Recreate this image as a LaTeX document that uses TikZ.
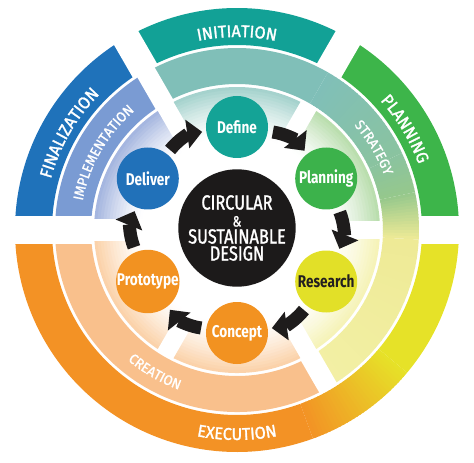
\documentclass[tikz,border=0pt]{standalone}
\usepackage{fontspec}
\usetikzlibrary{arrows.meta,decorations.text}
\newfontfamily\circfont[FakeStretch=0.8]{Fira Sans}
\newfontfamily\hubfont[FakeStretch=0.8,FakeBold=1.3]{Fira Sans}
\newfontfamily\labfont[FakeStretch=0.95,FakeBold=1.6]{Fira Sans}
\newfontfamily\midfont[FakeStretch=0.95,FakeBold=1.2]{Fira Sans}
\definecolor{finC}{RGB}{31,114,186}
\definecolor{iniC}{RGB}{18,161,150}
\definecolor{plaC}{RGB}{61,181,74}
\definecolor{exyC}{RGB}{230,226,40}
\definecolor{exoC}{RGB}{243,146,37}
\definecolor{impC}{RGB}{122,155,211}
\definecolor{strA}{RGB}{128,191,184}
\definecolor{strB}{RGB}{138,195,160}
\definecolor{strC}{RGB}{150,200,140}
\definecolor{strD}{RGB}{238,234,150}
\definecolor{strE}{RGB}{243,240,165}
\definecolor{creC}{RGB}{249,192,140}
\definecolor{dliC}{RGB}{160,178,222}
\definecolor{dfiC}{RGB}{160,208,202}
\definecolor{pliC}{RGB}{182,220,170}
\definecolor{rsiC}{RGB}{245,242,180}
\definecolor{ciC}{RGB}{251,208,165}
\definecolor{defC}{RGB}{20,163,150}
\definecolor{planC}{RGB}{60,178,75}
\definecolor{resC}{RGB}{226,224,40}
\definecolor{conC}{RGB}{242,146,33}
\definecolor{delC}{RGB}{33,113,185}
\definecolor{hubC}{RGB}{28,26,26}
\definecolor{arrC}{RGB}{30,28,28}
\definecolor{darkT}{RGB}{35,31,32}
\newcommand\sect[5]{\fill[#5] (#1:#3pt) arc[start angle=#1,end angle=#2,radius=#3pt] -- (#2:#4pt) arc[start angle=#2,end angle=#1,radius=#4pt] -- cycle;}
\newcommand\agrad[7]{%
  \foreach \i in {1,...,#7}{%
    \pgfmathsetmacro\sa{#1+(#2-#1)*(\i-1)/#7}%
    \pgfmathsetmacro\ea{#1+(#2-#1)*\i/#7+0.4*sign(#2-#1)*(\i<#7)}%
    \pgfmathtruncatemacro\p{100*(\i-0.5)/#7}%
    \fill[#6!\p!#5] (\sa:#3pt) arc[start angle=\sa,end angle=\ea,radius=#3pt] -- (\ea:#4pt) arc[start angle=\ea,end angle=\sa,radius=#4pt] -- cycle;}}
\newcommand\rfade[5]{%
  \foreach \j in {1,...,16}{%
    \pgfmathsetmacro\ra{#3+(#4-#3)*(\j-1)/16}%
    \pgfmathsetmacro\rb{min(#3+(#4-#3)*\j/16+0.5,#4)}%
    \pgfmathtruncatemacro\q{100*((\j-0.5)/16)^1.3}%
    \fill[#5!\q!white] (#1:\ra pt) arc[start angle=#1,end angle=#2,radius=\ra pt] -- (#2:\rb pt) arc[start angle=#2,end angle=#1,radius=\rb pt] -- cycle;}}
\newcommand\gapstrip[4]{\fill[white,rotate=#1] (#2pt,-#4pt) rectangle (#3pt,#4pt);}
\newcommand\olab{\labfont\fontsize{17}{17}\selectfont\color{white}}
\newcommand\mlab{\midfont\fontsize{14}{14}\selectfont\color{white}}
\tikzset{
  stage/.style={circle,minimum size=62pt,inner sep=0pt,text=white,font=\circfont\bfseries\fontsize{17}{17}\selectfont},
  hub/.style={circle,fill=hubC,minimum size=114pt,inner sep=0pt,text=white,align=center,font=\hubfont\fontsize{20.5}{17}\selectfont},
  flow/.style={draw=arrC,line width=13pt,-{Triangle[width=28pt,length=15pt]},shorten <=5pt,shorten >=4pt},
  bandtext/.style={decorate,decoration={text along path,text align=center,text={#1}}}
}
\begin{document}
\begin{tikzpicture}[x=1pt,y=1pt]
\useasboundingbox (-237pt,-233pt) rectangle (237pt,230pt);
% outer ring
\sect{120}{180}{185}{222}{finC}
\sect{60}{120}{185}{222}{iniC}
\sect{0}{60}{185}{222}{plaC}
\sect{-40}{0}{185}{222}{exyC}
\agrad{-40}{-70}{185}{222}{exyC}{exoC}{30}
\sect{-180}{-70}{185}{222}{exoC}
% middle ring
\sect{120}{180}{146}{182}{impC}
\sect{60}{120}{146}{182}{strA}
\agrad{60}{25}{146}{182}{strA}{strB}{25}
\agrad{25}{12}{146}{182}{strB}{strC}{10}
\agrad{12}{-3}{146}{182}{strC}{strD}{15}
\agrad{-3}{-60}{146}{182}{strD}{strE}{20}
\sect{-180}{-60}{146}{182}{creC}
% inner ring
\rfade{120}{180}{95}{143}{dliC}
\rfade{60}{120}{95}{143}{dfiC}
\rfade{0}{60}{95}{143}{pliC}
\rfade{-60}{0}{95}{143}{rsiC}
\rfade{-180}{-60}{95}{143}{ciC}
% gaps
\foreach \g in {0,60,120,180}{\gapstrip{\g}{183}{226}{14}}
\gapstrip{120}{143}{184}{10}
\gapstrip{180}{143}{184}{14}
\gapstrip{-60}{143}{184}{10}
\foreach \g in {0,60,120,-60,-120}{\gapstrip{\g}{60}{145}{9}}
\gapstrip{180}{60}{145}{11}
% labels
\path[bandtext={|\olab|INITIATION}] (120:193pt) arc[start angle=120,end angle=60,radius=193pt];
\path[bandtext={|\olab|PLANNING}] (61:193pt) arc[start angle=61,end angle=1,radius=193pt];
\path[bandtext={|\mlab|STRATEGY}] (61:157pt) arc[start angle=61,end angle=1,radius=157pt];
\path[bandtext={|\olab|FINALIZATION}] (180:193pt) arc[start angle=180,end angle=120,radius=193pt];
\path[bandtext={|\mlab|IMPLEMENTATION}] (180:157pt) arc[start angle=180,end angle=120,radius=157pt];
\path[bandtext={|\mlab|CREATION}] (-150:170pt) arc[start angle=-150,end angle=-90,radius=170pt];
\path[bandtext={|\olab|EXECUTION}] (-120:210pt) arc[start angle=-120,end angle=-60,radius=210pt];
% stages
\node[hub] (hub) at (0,2pt) {CIRCULAR\\{\fontsize{15}{17}\selectfont\&}\\SUSTAINABLE\\DESIGN};
\node[stage,fill=defC] (define) at (90:103pt) {Define};
\node[stage,fill=planC] (planning) at (30:103pt) {Planning};
\node[stage,fill=resC,text=darkT] (research) at (-30:103pt) {Research};
\node[stage,fill=conC] (concept) at (-90:103pt) {Concept};
\node[stage,fill=conC] (prototype) at (-150:103pt) {Prototype};
\node[stage,fill=delC] (deliver) at (150:103pt) {Deliver};
% arrows
\draw[flow] (define) to[bend left=22] (planning);
\draw[flow] (planning) to[bend left=22] (research);
\draw[flow] (research) to[bend left=22] (concept);
\draw[flow] (concept) to[bend left=22] (prototype);
\draw[flow] (prototype) to[bend left=22] (deliver);
\draw[flow] (deliver) to[bend left=22] (define);
\end{tikzpicture}
\end{document}
